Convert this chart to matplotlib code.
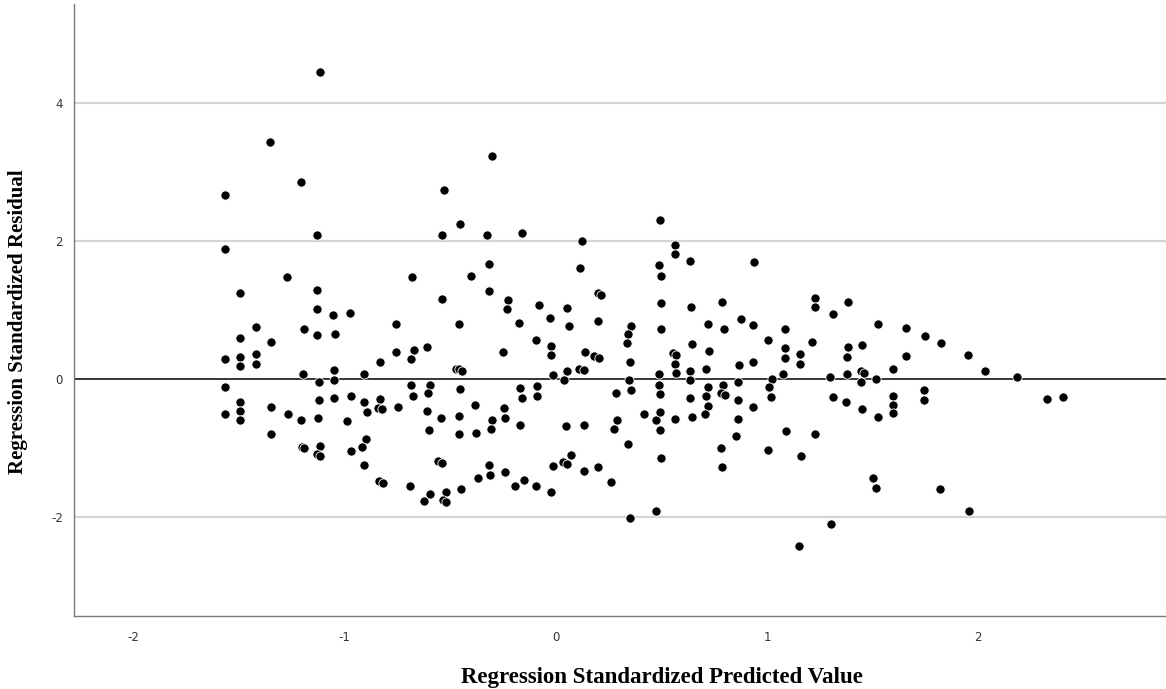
import matplotlib
matplotlib.use("Agg")
import matplotlib.pyplot as plt

plt.rcParams["axes.unicode_minus"] = False

# standardized predicted values (x) and standardized residuals (y)
x_pred = [-1.118, -1.352, -1.205, -1.566, -1.131, -1.566, -1.270, -0.679, -1.494, -1.128,
          -1.128, -1.053, -0.972, -1.417, -1.191, -0.754,
          -0.303, -0.529, -0.451, -0.537, -0.327, -0.161, 0.123, 0.492, -0.317, -0.399,
          0.114, 0.487, 0.500, -0.537, -0.317, -0.227, -0.232, -0.078, -0.026, 0.053,
          0.199, 0.214, 0.498, -0.458, -0.175, 0.064, 0.202, 0.356, 0.498,
          0.563, 0.563, 0.636, 0.940, 0.639, 0.786, 1.229, 1.229, 1.311, 1.382,
          0.722, 0.876, 0.795, 0.935, 1.085, 1.524, 1.656,
          -1.493, -1.130, -1.045, -1.347, -1.566, -1.493, -1.493, -1.420, -1.420, -0.833,
          -0.754, -0.671, -0.683, -0.611, -1.197, -1.051, -1.051, -1.119, -0.906, -1.566,
          -0.686, -0.593, -1.495, -1.495, -1.495, -1.566, -1.347, -1.268, -1.205, -1.124,
          -1.119, -1.051, -0.970, -0.907, -0.830, -0.892, -0.840, -0.823, -0.748, -0.674,
          -0.606, -0.611, -0.989, -0.598, -1.349, -1.202, -1.191, -1.115, -1.131, -1.115,
          -0.899, -0.915, -0.969, -0.909, -0.835, -0.816, -0.690, -0.593, -0.622,
          0.344, 0.337, -0.095, -0.251, -0.024, -0.024, 0.137, 0.183, 0.205, 0.350,
          -0.473, -0.456, -0.445, -0.011, 0.053, 0.038, 0.112, 0.134, 0.347, 0.487,
          -0.453, -0.169, -0.090, -0.087, -0.161, 0.356, 0.284, 0.487, 0.494, -0.383,
          -0.245, -0.240, -0.301, -0.308, -0.543, -0.456, -0.456, -0.377, -0.169, 0.047,
          0.133, 0.289, 0.277, 0.418, 0.476, 0.494, 0.494, 0.342, 0.498, -0.557,
          -0.537, -0.317, -0.311, -0.368, -0.241, -0.014, 0.036, 0.055, 0.071, 0.135,
          0.202, 0.262, -0.450, -0.521, -0.532, -0.521, -0.193, -0.151, -0.095, -0.022,
          0.353, 0.476,
          0.645, 0.724, 1.006, 1.085, 1.085, 1.213, 1.382, 1.380, 1.450, 0.554,
          0.569, 0.565, 0.569, 0.637, 0.637, 0.711, 0.866, 0.935, 1.156, 1.156,
          1.077, 1.022, 1.297, 1.377, 1.445, 1.459, 1.445, 1.516, 1.595, 0.790,
          0.864, 0.719, 0.710, 0.781, 0.803, 0.637, 0.861, 1.009, 1.019, 1.311,
          1.374, 1.451, 1.527, 1.595, 1.595, 1.595, 0.722, 0.707, 0.645, 0.566,
          0.932, 0.861, 0.852, 1.090, 1.226, 0.781, 0.788, 1.006, 1.161, 1.503,
          1.516, 1.303, 1.153,
          1.748, 1.823, 1.659, 1.951, 2.030, 2.185, 1.742, 1.742, 2.327, 2.401,
          1.819, 1.957]

y_resid = [4.45, 3.44, 2.85, 2.67, 2.09, 1.88, 1.48, 1.48, 1.25, 1.29,
           1.02, 0.93, 0.95, 0.76, 0.73, 0.80,
           3.23, 2.74, 2.24, 2.09, 2.08, 2.12, 2.00, 2.30, 1.66, 1.50,
           1.61, 1.65, 1.49, 1.16, 1.27, 1.14, 1.02, 1.07, 0.88, 1.03,
           1.24, 1.22, 1.10, 0.79, 0.81, 0.77, 0.84, 0.77, 0.73,
           1.94, 1.81, 1.71, 1.70, 1.04, 1.11, 1.18, 1.04, 0.94, 1.11,
           0.80, 0.87, 0.73, 0.78, 0.73, 0.79, 0.74,
           0.59, 0.64, 0.65, 0.53, 0.29, 0.32, 0.19, 0.36, 0.22, 0.24,
           0.39, 0.42, 0.29, 0.47, 0.07, 0.13, -0.01, -0.05, 0.07, -0.11,
           -0.09, -0.09, -0.33, -0.46, -0.60, -0.51, -0.40, -0.51, -0.59, -0.57,
           -0.31, -0.27, -0.25, -0.33, -0.29, -0.48, -0.42, -0.44, -0.41, -0.25,
           -0.20, -0.46, -0.61, -0.74, -0.80, -0.99, -1.00, -0.97, -1.09, -1.11,
           -0.87, -0.98, -1.04, -1.25, -1.48, -1.51, -1.55, -1.67, -1.77,
           0.65, 0.52, 0.57, 0.39, 0.48, 0.35, 0.39, 0.33, 0.30, 0.24,
           0.15, 0.14, 0.12, 0.06, 0.12, -0.01, 0.15, 0.13, -0.01, 0.07,
           -0.14, -0.13, -0.10, -0.24, -0.27, -0.16, -0.20, -0.08, -0.22, -0.37,
           -0.42, -0.56, -0.60, -0.73, -0.56, -0.53, -0.80, -0.78, -0.66, -0.68,
           -0.66, -0.60, -0.72, -0.51, -0.59, -0.48, -0.74, -0.94, -1.14, -1.19,
           -1.22, -1.25, -1.39, -1.44, -1.35, -1.26, -1.20, -1.23, -1.10, -1.33,
           -1.28, -1.50, -1.60, -1.64, -1.75, -1.78, -1.55, -1.47, -1.55, -1.64,
           -2.01, -1.91,
           0.51, 0.40, 0.56, 0.45, 0.31, 0.54, 0.46, 0.32, 0.49, 0.37,
           0.35, 0.22, 0.08, 0.12, -0.01, 0.15, 0.21, 0.25, 0.36, 0.22,
           0.07, 0.00, 0.03, 0.07, 0.11, 0.09, -0.04, 0.00, 0.15, -0.08,
           -0.05, -0.12, -0.25, -0.20, -0.23, -0.28, -0.31, -0.12, -0.26, -0.26,
           -0.33, -0.44, -0.55, -0.24, -0.37, -0.50, -0.39, -0.51, -0.55, -0.58,
           -0.40, -0.58, -0.83, -0.75, -0.80, -1.00, -1.27, -1.03, -1.11, -1.43,
           -1.58, -2.10, -2.42,
           0.62, 0.52, 0.34, 0.35, 0.11, 0.03, -0.16, -0.30, -0.29, -0.26,
           -1.59, -1.91]

x_ticks = [-2, -1, 0, 1, 2]
y_ticks = [-2, 0, 2, 4]

fig = plt.figure(figsize=(11.66, 6.89), dpi=100)
ax = fig.add_axes([74 / 1166, 1 - 616 / 689, 1 - 74 / 1166, (616 - 4) / 689])

ax.set_xlim(-2.280, 2.888)
ax.set_ylim(-3.435, 5.435)

# light horizontal grid, black reference line at zero
for yv in y_ticks:
    if yv != 0:
        ax.axhline(yv, color="#d4d4d4", lw=1.6, zorder=0)
ax.axhline(0, color="black", lw=1.1, zorder=1)

ax.scatter(x_pred, y_resid, s=44, c="black", edgecolors="white", linewidths=0.6, zorder=3)

ax.set_xticks(x_ticks)
ax.set_yticks(y_ticks)
ax.tick_params(length=0, labelsize=8.5, labelcolor="#333333")
ax.tick_params(axis="x", pad=11)
ax.tick_params(axis="y", pad=8)

for s in ["top", "right"]:
    ax.spines[s].set_visible(False)
for s in ["left", "bottom"]:
    ax.spines[s].set_color("#7a7a7a")
    ax.spines[s].set_linewidth(1.0)

fig.text(662 / 1166, 1 - 677 / 689, "Regression Standardized Predicted Value",
         ha="center", va="center", fontsize=16.5, fontweight="bold", family="Liberation Serif")
fig.text(18 / 1166, 1 - 322 / 689, "Regression Standardized Residual", rotation=90,
         ha="center", va="center", fontsize=15, fontweight="bold", family="Liberation Serif")

fig.savefig("out.png", dpi=100, facecolor="white")
